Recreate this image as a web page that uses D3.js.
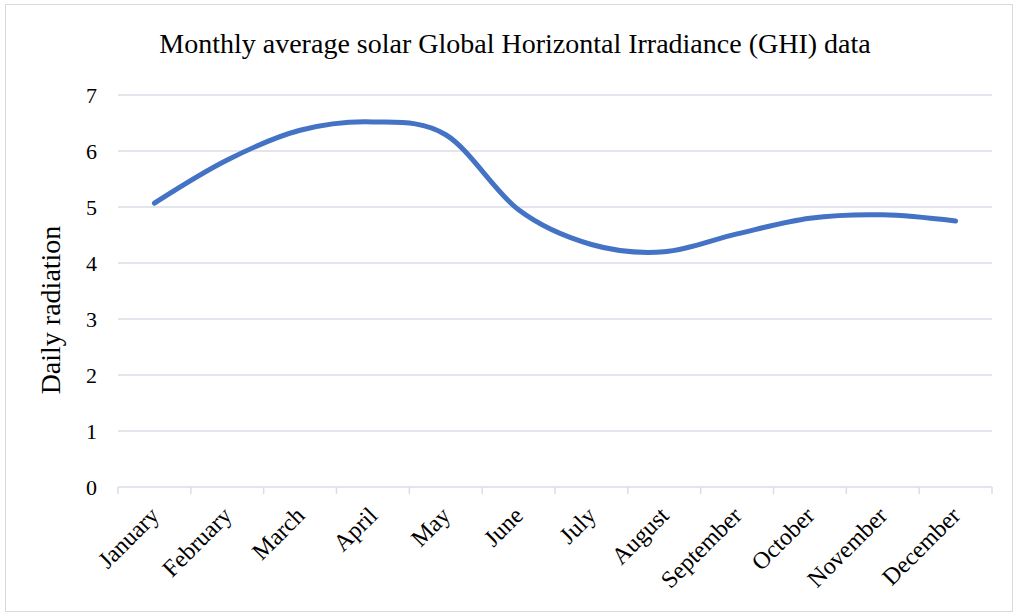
<!DOCTYPE html>
<html>
<head>
<meta charset="utf-8">
<script src="https://cdn.jsdelivr.net/npm/d3@7"></script>
<style>
  body { margin: 0; background: #fff; }
  svg text { font-family: "Liberation Serif", "Times New Roman", serif; fill: #000; }
</style>
</head>
<body>
<svg width="1017" height="615"></svg>
<script>
// DATA
var months = ["January", "February", "March", "April", "May", "June",
              "July", "August", "September", "October", "November", "December"];
var ghi = [5.07, 5.84, 6.37, 6.52, 6.29, 4.95, 4.33, 4.2, 4.52, 4.8, 4.86, 4.75];
var yTicks = [0, 1, 2, 3, 4, 5, 6, 7];

// SETUP
var svg = d3.select("svg"),
    margin = { top: 95, right: 25, bottom: 128, left: 118 },
    width = 1017 - margin.left - margin.right,
    height = 615 - margin.top - margin.bottom;

// chart border
svg.append("rect")
    .attr("x", 5.5).attr("y", 4.5)
    .attr("width", 1007).attr("height", 607)
    .attr("fill", "none")
    .attr("stroke", "#d9d9d9");

var x = d3.scaleBand().domain(months).range([0, width]),
    y = d3.scaleLinear().domain([0, 7]).range([height, 0]);

var g = svg.append("g")
    .attr("transform", "translate(" + margin.left + "," + margin.top + ")");

// gridlines
g.selectAll(".grid")
    .data(yTicks.slice(1))
    .enter().append("line")
    .attr("class", "grid")
    .attr("x1", 0).attr("x2", width)
    .attr("y1", function (d) { return y(d); })
    .attr("y2", function (d) { return y(d); })
    .attr("stroke", "#d9dde6")
    .attr("stroke-width", 1.5);

// y axis labels
g.selectAll(".ylab")
    .data(yTicks)
    .enter().append("text")
    .attr("class", "ylab")
    .attr("x", -21)
    .attr("y", function (d) { return y(d); })
    .attr("dy", "0.35em")
    .attr("text-anchor", "end")
    .style("font-size", "22px")
    .text(function (d) { return d; });

// x axis
var xAxis = g.append("g")
    .attr("transform", "translate(0," + height + ")");

xAxis.append("line")
    .attr("x1", 0).attr("x2", width)
    .attr("stroke", "#d9dde6").attr("stroke-width", 1.5);

xAxis.selectAll(".tick")
    .data(d3.range(months.length + 1))
    .enter().append("line")
    .attr("class", "tick")
    .attr("x1", function (i) { return i * x.step(); })
    .attr("x2", function (i) { return i * x.step(); })
    .attr("y1", 0).attr("y2", 7)
    .attr("stroke", "#d9dde6").attr("stroke-width", 1.5);

xAxis.selectAll(".xlab")
    .data(months)
    .enter().append("text")
    .attr("class", "xlab")
    .attr("text-anchor", "end")
    .style("font-size", "24px")
    .attr("transform", function (d) {
        return "translate(" + (x(d) + x.bandwidth() / 2 + 6) + ",30) rotate(-45)";
    })
    .text(function (d) { return d; });

// line
var line = d3.line()
    .x(function (d, i) { return x(months[i]) + x.bandwidth() / 2; })
    .y(function (d) { return y(d); })
    .curve(d3.curveCatmullRom.alpha(0));

g.append("path")
    .datum(ghi)
    .attr("fill", "none")
    .attr("stroke", "#4472c4")
    .attr("stroke-width", 5)
    .attr("stroke-linecap", "round")
    .attr("d", line);

// title
svg.append("text")
    .attr("x", 515).attr("y", 53)
    .attr("text-anchor", "middle")
    .style("font-size", "28px")
    .text("Monthly average solar Global Horizontal Irradiance (GHI) data");

// y axis title
svg.append("text")
    .attr("transform", "translate(60,310) rotate(-90)")
    .attr("text-anchor", "middle")
    .style("font-size", "28px")
    .text("Daily radiation");
</script>
</body>
</html>
